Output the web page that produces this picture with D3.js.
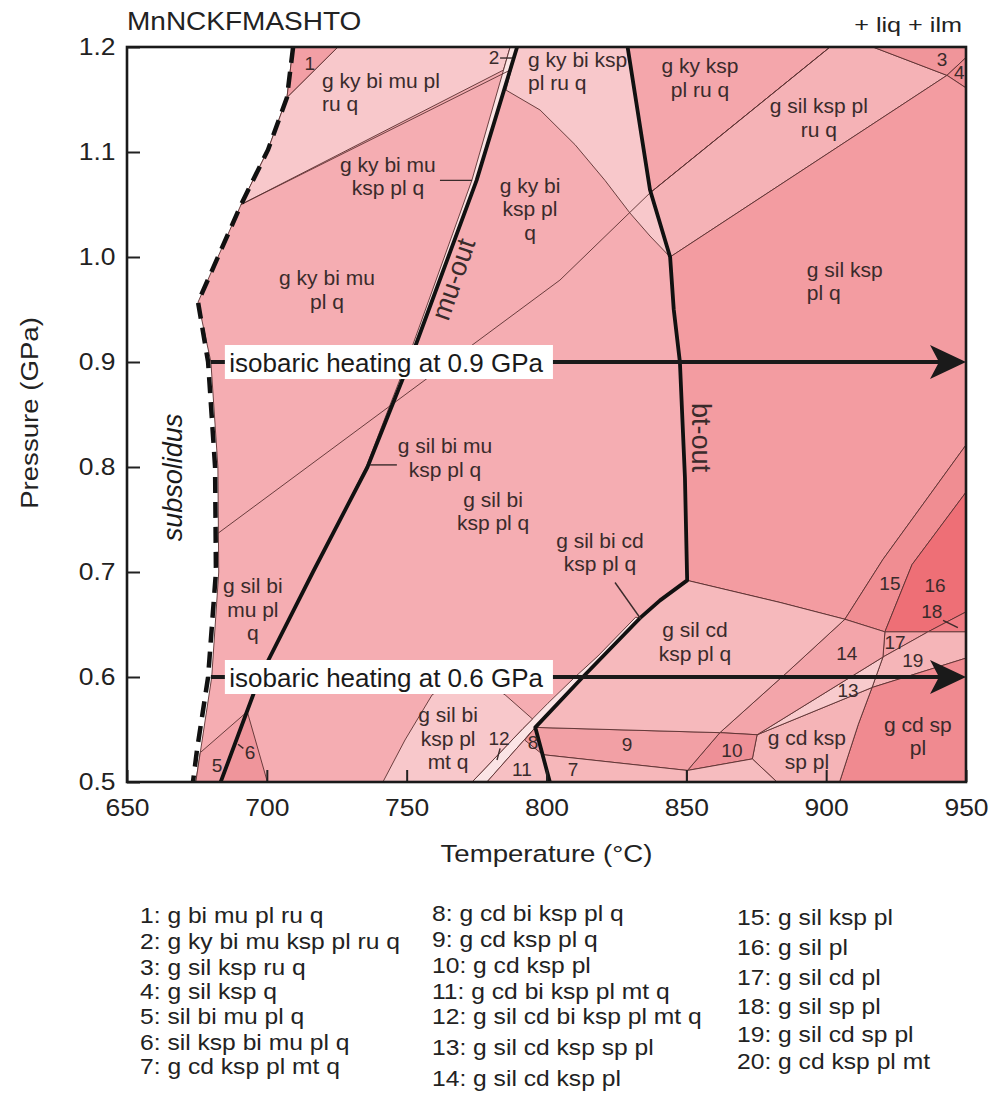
<!DOCTYPE html>
<html>
<head>
<meta charset="utf-8">
<script src="https://cdn.jsdelivr.net/npm/d3@7"></script>
<style>
  body { margin: 0; background: #fff; }
  text { font-family: "Liberation Sans", Arial, sans-serif; }
</style>
</head>
<body>
<div id="chart"></div>
<script>
// Axis ticks
const tempTicks = [650, 700, 750, 800, 850, 900, 950];
const pressTicks = [0.5, 0.6, 0.7, 0.8, 0.9, 1.0, 1.1, 1.2];

// Phase boundaries, [T (°C), P (GPa)]
const solidus = [[709.4,1.2],[707.2,1.152],[700.4,1.102],[690.8,1.05],[675.4,0.957],[680,0.9],[682.5,0.8],[682.8,0.7],[680.3,0.6],[676.2,0.528],[674.6,0.5]];
const solidusDash = [[709.4,1.2],[707.2,1.152],[700.4,1.102],[690.8,1.05],[675.4,0.957],[679,0.9],[681.5,0.8],[681.8,0.7],[679,0.6],[675,0.53],[673.6,0.5]];
const muOut = [[789.5,1.2],[775,1.073],[751,0.9],[736,0.8],[716.5,0.7],[697.5,0.6],[683.5,0.5]];
const muOutThin = [[787,1.2],[773.3,1.073],[750,0.9],[735.5,0.8],[716.5,0.7]];
const btOut = [[829,1.2],[837,1.064],[844.2,1.0],[845.5,0.95],[847.7,0.9],[849.5,0.79],[850.3,0.692],[840.6,0.673],[833.4,0.656],[813,0.6],[796,0.552],[801.2,0.5]];
const kySil = [[682.6,0.737],[804.8,0.978],[837,1.061],[901.4,1.2]];
const ruOutLeft = [[690.8,1.05],[787,1.178]];

// Fields (assemblage polygons)
const fields = {
  base: solidus.concat([[950,0.5],[950,1.2]]),
  kyRuLeft: [[725.4,1.2],[787,1.2],[784.6,1.178],[690.8,1.05],[700.4,1.102],[707.2,1.152]],
  f1: [[709.4,1.2],[725.4,1.2],[707.2,1.152]],
  muSliver: muOutThin.concat(muOut.slice(0,5).reverse()),
  kyRuMid: [[789.5,1.2],[829,1.2],[837,1.064],[844.2,1.0],[837,1.02],[829.8,1.042],[820.9,1.073],[810.2,1.107],[797.7,1.14],[785.5,1.159]],
  kyKspRu: [[829,1.2],[901.4,1.2],[837,1.061]],
  silKspRu: [[837,1.061],[901.4,1.2],[916.7,1.2],[943.2,1.173],[844.2,1.0]],
  f3: [[916.7,1.2],[950,1.2],[950,1.19],[943.2,1.173]],
  f4: [[943.2,1.173],[950,1.19],[950,1.161]],
  silKsp: [[844.2,1.0],[943.2,1.173],[950,1.161],[950,0.821],[920.3,0.712],[906.7,0.655],[883.5,0.671],[850.3,0.692],[849.5,0.79],[847.7,0.9],[845.5,0.95]],
  f15: [[906.7,0.655],[920.3,0.712],[950,0.821],[950,0.776],[930.7,0.707],[921,0.643]],
  f16: [[921,0.643],[930.7,0.707],[950,0.776],[950,0.662],[936.4,0.643]],
  f18: [[936.4,0.643],[950,0.662],[950,0.643]],
  f17: [[921,0.643],[936.4,0.643],[920.3,0.619]],
  f19: [[920.3,0.619],[936.4,0.643],[950,0.643],[950,0.618],[916.4,0.59]],
  cdSp: [[916.4,0.59],[950,0.618],[950,0.5],[904.8,0.5],[911.5,0.555]],
  cdKspSp: [[875.3,0.545],[916.4,0.59],[911.5,0.555],[904.8,0.5],[882.4,0.5],[873.6,0.522]],
  f13: [[875.3,0.545],[920.3,0.619],[916.4,0.59]],
  f14: [[906.7,0.655],[921,0.643],[920.3,0.619],[875.3,0.545],[862,0.547],[887.1,0.607]],
  f10: [[862,0.547],[875.3,0.545],[873.6,0.522],[850.4,0.511]],
  f20: [[850.4,0.511],[873.6,0.522],[882.4,0.5],[850.4,0.5]],
  f9: [[796,0.552],[862,0.547],[850.4,0.511],[798.7,0.526]],
  f7: [[798.7,0.526],[850.4,0.511],[850.4,0.5],[801.2,0.5]],
  silCd: [[850.3,0.692],[883.5,0.671],[906.7,0.655],[887.1,0.607],[862,0.547],[796,0.552],[813,0.6],[833.4,0.656],[840.6,0.673]],
  band: [[831.9,0.657],[818.4,0.62],[810.2,0.6],[800.5,0.575],[791.6,0.551],[773.4,0.5],[778.7,0.5],[796,0.552],[813,0.6],[833.4,0.656]],
  f11: [[796,0.552],[801.2,0.5],[778.7,0.5]],
  f8: [[796,0.552],[798.7,0.526],[792.2,0.54]],
  mtField: [[741.5,0.5],[749.4,0.54],[759.1,0.583],[771.9,0.605],[785.2,0.583],[795,0.56],[791.6,0.551],[773.4,0.5]],
  f5: [[676.2,0.528],[693,0.567],[683.5,0.5],[674.6,0.5]],
  f6: [[693,0.567],[700.2,0.5],[683.5,0.5]]
};

const fieldColor = {
  base: "#f5adb2", kyRuLeft: "#f8c8cb", f1: "#f29fa5", muSliver: "#fbe5e5",
  kyRuMid: "#f8c8cb", kyKspRu: "#f4a6ab", silKspRu: "#f5b2b6", f3: "#f0959a",
  f4: "#ee8d93", silKsp: "#f39ca1", f15: "#f08d92", f16: "#ee6f76", f18: "#f07c83",
  f17: "#f3a2a7", f19: "#f5b5b8", cdSp: "#f08a90", cdKspSp: "#f5b4b7", f13: "#f8cbcd",
  f14: "#f3a5aa", f10: "#ee9097", f20: "#f6bcbf", f9: "#f2a0a5", f7: "#f6b7ba",
  silCd: "#f6b9bc", band: "#fbe4e5", f11: "#f7c0c3", f8: "#f0999f", mtField: "#f8c8cb",
  f5: "#f2a2a8", f6: "#ef959b"
};

// Field labels [T, P of first baseline]
const labels = [
  {t:715.4, p:1.178, lines:["1"], num:true},
  {t:719.7, p:1.161, lines:["g ky bi mu pl","ru q"], anchor:"start"},
  {t:781.2, p:1.184, lines:["2"], num:true},
  {t:743.3, p:1.081, lines:["g ky bi mu","ksp pl q"]},
  {t:794.1, p:1.061, lines:["g ky bi","ksp pl","q"]},
  {t:793.4, p:1.181, lines:["g ky bi ksp","pl ru q"], anchor:"start"},
  {t:854.9, p:1.175, lines:["g ky ksp","pl ru q"]},
  {t:897.4, p:1.137, lines:["g sil ksp pl","ru q"]},
  {t:941.4, p:1.182, lines:["3"], num:true},
  {t:947.6, p:1.170, lines:["4"], num:true},
  {t:893.1, p:0.981, lines:["g sil ksp","pl q"], anchor:"start"},
  {t:721.5, p:0.973, lines:["g ky bi mu","pl q"]},
  {t:763.7, p:0.813, lines:["g sil bi mu","ksp pl q"]},
  {t:780.9, p:0.762, lines:["g sil bi","ksp pl q"]},
  {t:819.1, p:0.723, lines:["g sil bi cd","ksp pl q"]},
  {t:695.0, p:0.680, lines:["g sil bi","mu pl","q"]},
  {t:853.1, p:0.638, lines:["g sil cd","ksp pl q"]},
  {t:764.8, p:0.557, lines:["g sil bi","ksp pl","mt q"]},
  {t:783.0, p:0.535, lines:["12"], num:true},
  {t:795.2, p:0.531, lines:["8"], num:true},
  {t:791.2, p:0.506, lines:["11"], num:true},
  {t:809.5, p:0.506, lines:["7"], num:true},
  {t:828.8, p:0.530, lines:["9"], num:true},
  {t:866.3, p:0.524, lines:["10"], num:true},
  {t:893.1, p:0.535, lines:["g cd ksp","sp pl"]},
  {t:907.8, p:0.581, lines:["13"], num:true},
  {t:907.4, p:0.616, lines:["14"], num:true},
  {t:922.8, p:0.683, lines:["15"], num:true},
  {t:938.9, p:0.681, lines:["16"], num:true},
  {t:937.8, p:0.656, lines:["18"], num:true},
  {t:924.6, p:0.627, lines:["17"], num:true},
  {t:931.0, p:0.610, lines:["19"], num:true},
  {t:932.8, p:0.548, lines:["g cd sp","pl"]},
  {t:682.2, p:0.510, lines:["5"], num:true},
  {t:694.0, p:0.522, lines:["6"], num:true}
];

const leaders = [
  [[783.4,1.1895],[787.7,1.1895]],
  [[761.9,1.073],[773.4,1.073]],
  [[736.9,0.802],[746.5,0.802]],
  [[824.5,0.690],[833.8,0.655]],
  [[783.4,0.532],[782.3,0.521]],
  [[941.8,0.654],[947.1,0.647]],
  [[689.7,0.536],[691.6,0.532]]
];

const isobars = [0.9, 0.6];

const legendCols = [
  ["1: g bi mu pl ru q","2: g ky bi mu ksp pl ru q","3: g sil ksp ru q","4: g sil ksp q","5: sil bi mu pl q","6: sil ksp bi mu pl q","7: g cd ksp pl mt q"],
  ["8: g cd bi ksp pl q","9: g cd ksp pl q","10: g cd ksp pl","11: g cd bi ksp pl mt q","12: g sil cd bi ksp pl mt q","13: g sil cd ksp sp pl","14: g sil cd ksp pl"],
  ["15: g sil ksp pl","16: g sil pl","17: g sil cd pl","18: g sil sp pl","19: g sil cd sp pl","20: g cd ksp pl mt"]
];

// Set up dimensions and margins
const margin = { top: 47, right: 34, bottom: 321, left: 127 };
const width = 1000 - margin.left - margin.right;
const height = 1103 - margin.top - margin.bottom;
const ink = "#3a2b2b";

const svg = d3.select("#chart").append("svg")
    .attr("width", 1000)
    .attr("height", 1103);

const g = svg.append("g")
    .attr("transform", `translate(${margin.left},${margin.top})`);

const x = d3.scaleLinear().domain([650, 950]).range([0, width]);
const y = d3.scaleLinear().domain([0.5, 1.2]).range([height, 0]);
const line = d3.line().x(d => x(d[0])).y(d => y(d[1]));

g.append("clipPath").attr("id", "plot")
  .append("rect").attr("width", width).attr("height", height);

const plot = g.append("g").attr("clip-path", "url(#plot)");

// Fields
Object.keys(fields).forEach(k => {
    plot.append("path")
        .attr("d", line(fields[k]) + "Z")
        .attr("fill", fieldColor[k])
        .attr("stroke", "#5a3030")
        .attr("stroke-width", 0.9)
        .attr("stroke-linejoin", "round");
});

// Extra thin boundaries
[kySil, ruOutLeft].forEach(l => {
    plot.append("path").attr("d", line(l))
        .attr("fill", "none").attr("stroke", "#5a3030").attr("stroke-width", 0.9);
});

// Thick reaction lines
[muOut, btOut].forEach(l => {
    plot.append("path").attr("d", line(l))
        .attr("fill", "none").attr("stroke", "#111")
        .attr("stroke-width", 3.8).attr("stroke-linejoin", "round");
});

// Solidus (dashed)
plot.append("path").attr("d", line(solidusDash))
    .attr("fill", "none").attr("stroke", "#111")
    .attr("stroke-width", 4.5).attr("stroke-dasharray", "16,9");

// Leader lines
leaders.forEach(l => {
    plot.append("path").attr("d", line(l))
        .attr("fill", "none").attr("stroke", ink).attr("stroke-width", 1.4);
});

// Isobaric heating arrows
isobars.forEach(p => {
    const tip = x(950), yy = y(p);
    plot.append("line")
        .attr("x1", x(680)).attr("x2", tip - 26)
        .attr("y1", yy).attr("y2", yy)
        .attr("stroke", "#1a1a1a").attr("stroke-width", 4);
    plot.append("path")
        .attr("d", `M${tip},${yy}L${tip - 36},${yy - 17}L${tip - 27},${yy}L${tip - 36},${yy + 17}Z`)
        .attr("fill", "#1a1a1a");
    g.append("rect")
        .attr("x", x(685)).attr("width", x(802.3) - x(685))
        .attr("y", yy - 17).attr("height", 34)
        .attr("fill", "#fff");
    g.append("text")
        .attr("x", x(686.6)).attr("y", yy + 9.5)
        .attr("font-size", 26).attr("fill", "#1a1a1a")
        .text(`isobaric heating at ${p.toFixed(1)} GPa`);
});

// Field labels
labels.forEach(d => {
    const t = g.append("text")
        .attr("x", x(d.t)).attr("y", y(d.p))
        .attr("text-anchor", d.anchor || "middle")
        .attr("font-size", d.num ? 19 : 21)
        .attr("fill", ink);
    d.lines.forEach((s, i) => {
        t.append("tspan").attr("x", x(d.t)).attr("dy", i ? 23.5 : 0).text(s);
    });
});

// Rotated line labels
g.append("text")
    .attr("transform", `translate(${x(769.8)},${y(0.976)}) rotate(-71)`)
    .attr("text-anchor", "middle").attr("font-size", 27).attr("fill", ink)
    .text("mu-out");
g.append("text")
    .attr("transform", `translate(${x(852)},${y(0.828)}) rotate(90)`)
    .attr("text-anchor", "middle").attr("font-size", 27).attr("fill", ink)
    .text("bt-out");
g.append("text")
    .attr("transform", `translate(${x(669.7)},${y(0.79)}) rotate(-90)`)
    .attr("text-anchor", "middle").attr("font-size", 27).attr("font-style", "italic")
    .attr("fill", "#1a1a1a")
    .text("subsolidus");

// Axes with inward ticks
const xAxis = d3.axisBottom(x).tickValues(tempTicks).tickSize(-12).tickPadding(18)
    .tickFormat(d3.format("d"));
const gx = g.append("g").attr("transform", `translate(0,${height})`).call(xAxis);
gx.select(".domain").remove();
gx.attr("font-size", 23).attr("font-family", null).attr("color", "#222");
gx.selectAll("line").attr("stroke-width", 2);
gx.selectAll("text").attr("transform", "scale(1.15,1)");

const yAxis = d3.axisLeft(y).tickValues(pressTicks).tickSize(-13).tickPadding(10)
    .tickFormat(d3.format(".1f"));
const gy = g.append("g").call(yAxis);
gy.select(".domain").remove();
gy.attr("font-size", 23).attr("font-family", null).attr("color", "#222");
gy.selectAll("line").attr("stroke-width", 2);
gy.selectAll("text").attr("transform", "scale(1.15,1)");

// Frame
g.append("rect").attr("width", width).attr("height", height)
    .attr("fill", "none").attr("stroke", "#1a1a1a").attr("stroke-width", 2.6);

// Axis labels
svg.append("text")
    .attr("transform", `translate(${margin.left + width / 2},862) scale(1.15,1)`)
    .attr("text-anchor", "middle").attr("font-size", 24).attr("fill", "#222")
    .text("Temperature (°C)");
svg.append("text")
    .attr("transform", "translate(38,413) rotate(-90) scale(1.15,1)")
    .attr("text-anchor", "middle").attr("font-size", 24).attr("fill", "#222")
    .text("Pressure (GPa)");

// Titles
svg.append("text")
    .attr("transform", "translate(127,30) scale(1.12,1)")
    .attr("font-size", 25).attr("fill", "#222")
    .text("MnNCKFMASHTO");
svg.append("text")
    .attr("transform", "translate(962,32) scale(1.2,1)")
    .attr("text-anchor", "end").attr("font-size", 21).attr("fill", "#222")
    .text("+ liq + ilm");

// Legend
const colX = [140, 432, 737];
const colRows = [
    [923, 949, 975, 999, 1024, 1050, 1074],
    [921, 947, 973, 999, 1024, 1055, 1086],
    [925, 955, 985, 1014, 1042, 1069]
];
legendCols.forEach((col, c) => {
    col.forEach((s, i) => {
        svg.append("text")
            .attr("transform", `translate(${colX[c]},${colRows[c][i]}) scale(1.12,1)`)
            .attr("font-size", 22).attr("fill", "#222")
            .text(s);
    });
});
</script>
</body>
</html>
